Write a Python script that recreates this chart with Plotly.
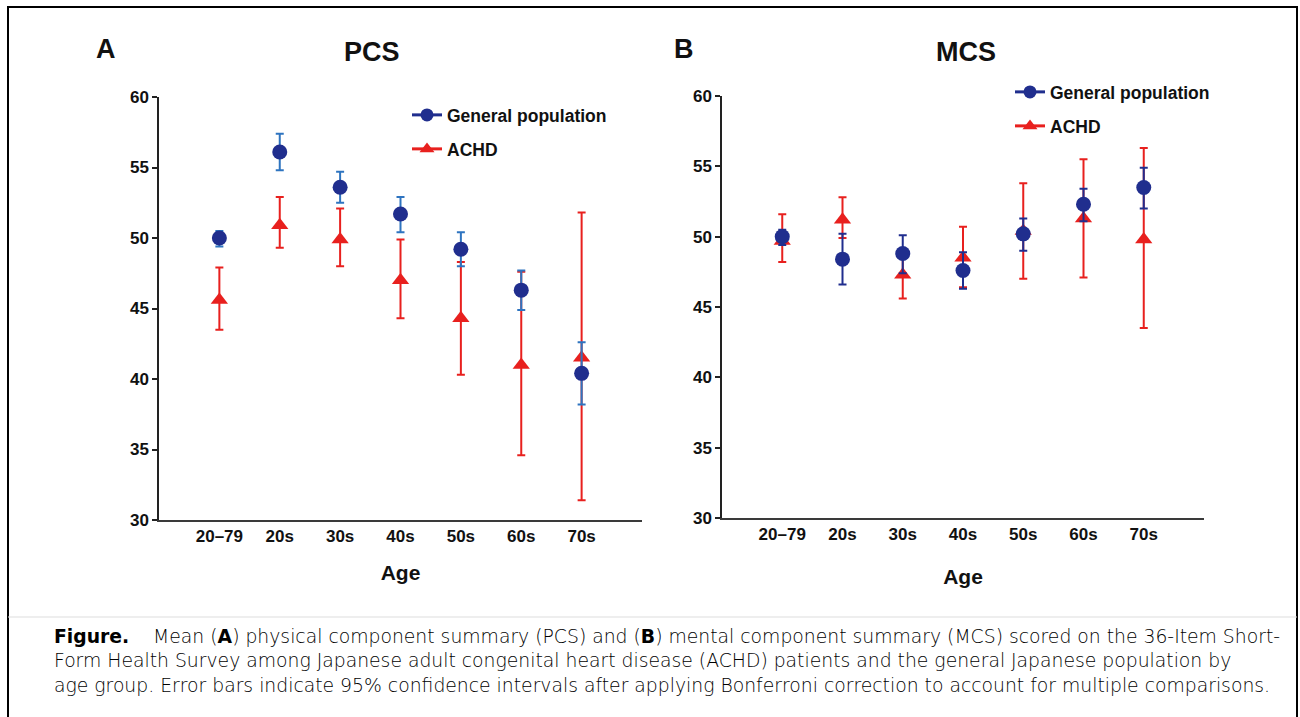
import plotly.graph_objects as go

ages = ["20–79", "20s", "30s", "40s", "50s", "60s", "70s"]

pcs_gp_mean = [50.0, 56.1, 53.6, 51.7, 49.2, 46.3, 40.4]
pcs_gp_low = [49.4, 54.8, 52.5, 50.4, 48.0, 44.9, 38.2]
pcs_gp_high = [50.5, 57.4, 54.7, 52.9, 50.4, 47.7, 42.6]

pcs_achd_mean = [45.6, 50.9, 49.9, 47.0, 44.3, 41.0, 41.5]
pcs_achd_low = [43.5, 49.3, 48.0, 44.3, 40.3, 34.6, 31.4]
pcs_achd_high = [47.9, 52.9, 52.1, 49.9, 48.3, 47.6, 51.8]

mcs_gp_mean = [50.0, 48.4, 48.8, 47.6, 50.2, 52.3, 53.5]
mcs_gp_low = [49.4, 46.6, 47.4, 46.3, 49.0, 51.1, 52.0]
mcs_gp_high = [50.5, 50.2, 50.1, 48.9, 51.3, 53.4, 54.9]

mcs_achd_mean = [49.7, 51.2, 47.3, 48.5, 50.4, 51.3, 49.8]
mcs_achd_low = [48.2, 49.9, 45.6, 46.4, 47.0, 47.1, 43.5]
mcs_achd_high = [51.6, 52.8, 49.0, 50.7, 53.8, 55.5, 56.3]

NAVY = "#202E8E"
LBLUE = "#2E74C0"
RED = "#E8201E"
W, H = 1300, 717


def err(mean, low, high):
    return dict(type="data", symmetric=False,
                array=[h - m for m, h in zip(mean, high)],
                arrayminus=[m - l for m, l in zip(mean, low)],
                thickness=2, width=4)


fig = go.Figure()

panels = [
    ("x", "y", pcs_gp_mean, pcs_gp_low, pcs_gp_high, pcs_achd_mean, pcs_achd_low, pcs_achd_high, LBLUE, "legend", "legend2"),
    ("x2", "y2", mcs_gp_mean, mcs_gp_low, mcs_gp_high, mcs_achd_mean, mcs_achd_low, mcs_achd_high, NAVY, "legend3", "legend4"),
]
for xa, ya, gm, gl, gh, am, al, ah, gerr, lg1, lg2 in panels:
    e = err(am, al, ah)
    e["color"] = RED
    fig.add_trace(go.Scatter(x=ages, y=am, xaxis=xa, yaxis=ya, mode="markers",
                             marker=dict(symbol="triangle-up", size=15, color=RED),
                             error_y=e, showlegend=False, hoverinfo="y"))
    e = err(gm, gl, gh)
    e["color"] = gerr
    fig.add_trace(go.Scatter(x=ages, y=gm, xaxis=xa, yaxis=ya, mode="markers",
                             marker=dict(symbol="circle", size=15, color=NAVY),
                             error_y=e, showlegend=False, hoverinfo="y"))
    fig.add_trace(go.Scatter(x=[None], y=[None], xaxis=xa, yaxis=ya, mode="lines+markers",
                             name="General population", legend=lg1,
                             line=dict(color=NAVY, width=3),
                             marker=dict(symbol="circle", size=13, color=NAVY)))
    fig.add_trace(go.Scatter(x=[None], y=[None], xaxis=xa, yaxis=ya, mode="lines+markers",
                             name="ACHD", legend=lg2,
                             line=dict(color=RED, width=3),
                             marker=dict(symbol="triangle-up", size=13, color=RED)))

tickfont = dict(family="Liberation Sans", size=17, color="#111", weight="bold")
titlefont = dict(family="Liberation Sans", size=21, color="#111", weight="bold")
xcommon = dict(type="category", range=[-1, 7], showline=True, linecolor="#3a3a3a", linewidth=2,
               ticks="", showgrid=False, zeroline=False, tickfont=tickfont, automargin=False,
               fixedrange=True)
ycommon = dict(range=[30, 60], dtick=5, showline=True, linecolor="#222", linewidth=1.5,
               ticks="outside", ticklen=5, tickwidth=1.5, tickcolor="#222", automargin=False,
               showgrid=False, zeroline=False, tickfont=tickfont, fixedrange=True)

fig.update_layout(
    width=W, height=H,
    margin=dict(l=0, r=0, t=0, b=0, autoexpand=False),
    paper_bgcolor="white", plot_bgcolor="white",
    xaxis=dict(domain=[159 / W, 642 / W], anchor="y",
               title=dict(text="Age", font=titlefont, standoff=20), **xcommon),
    yaxis=dict(domain=[1 - 520 / H, 1 - 97 / H], anchor="x", **ycommon),
    xaxis2=dict(domain=[722 / W, 1204 / W], anchor="y2",
                title=dict(text="Age", font=titlefont, standoff=26), **xcommon),
    yaxis2=dict(domain=[1 - 518 / H, 1 - 96 / H], anchor="x2", **ycommon),
)

legfont = dict(family="Liberation Sans", size=17.5, color="#111", weight="bold")
for name, lx, ly in [("legend", 407, 115), ("legend2", 407, 149), ("legend3", 1010, 92), ("legend4", 1010, 126)]:
    fig.update_layout({name: dict(x=lx / W, y=1 - ly / H, xanchor="left", yanchor="middle",
                                  font=legfont, bgcolor="rgba(0,0,0,0)", borderwidth=0,
                                  itemwidth=30, tracegroupgap=0)})

def ann(text, x, y, size, weight="bold", xanchor="center", family="Liberation Sans", color="#111"):
    fig.add_annotation(text=text, x=x / W, y=1 - y / H, xref="paper", yref="paper",
                       showarrow=False, xanchor=xanchor, yanchor="middle",
                       font=dict(family=family, size=size, color=color, weight=weight))

ann("A", 106, 49, 27)
ann("PCS", 372, 52, 27)
ann("B", 684, 49, 27)
ann("MCS", 966, 52, 27)

caption = (
    "<b>Figure.</b>"
    "    Mean (<b>A</b>) physical component summary (PCS) and (<b>B</b>) mental component summary (MCS) scored on the 36-Item Short-<br>"
    "Form Health Survey among Japanese adult congenital heart disease (ACHD) patients and the general Japanese population by<br>"
    "age group. Error bars indicate 95% confidence intervals after applying Bonferroni correction to account for multiple comparisons."
)
fig.add_annotation(text=caption, x=52 / W, y=1 - 661 / H, xref="paper", yref="paper",
                   showarrow=False, xanchor="left", yanchor="middle", align="left",
                   font=dict(family="DejaVu Sans", size=18.8, color="#000", weight=200))

# frame around the figure and the faint caption separator
fig.add_shape(type="rect", xref="paper", yref="paper", x0=8 / W, x1=1297 / W, y0=-0.05, y1=1 - 7 / H,
              line=dict(color="black", width=2), fillcolor="rgba(0,0,0,0)")
fig.add_shape(type="line", xref="paper", yref="paper", x0=8 / W, x1=1297 / W, y0=1 - 617 / H, y1=1 - 617 / H,
              line=dict(color="#dddddd", width=1))

fig.write_html("out.html", config={"displayModeBar": False},
               post_script="document.body.style.margin='0';document.body.style.overflow='hidden';")
